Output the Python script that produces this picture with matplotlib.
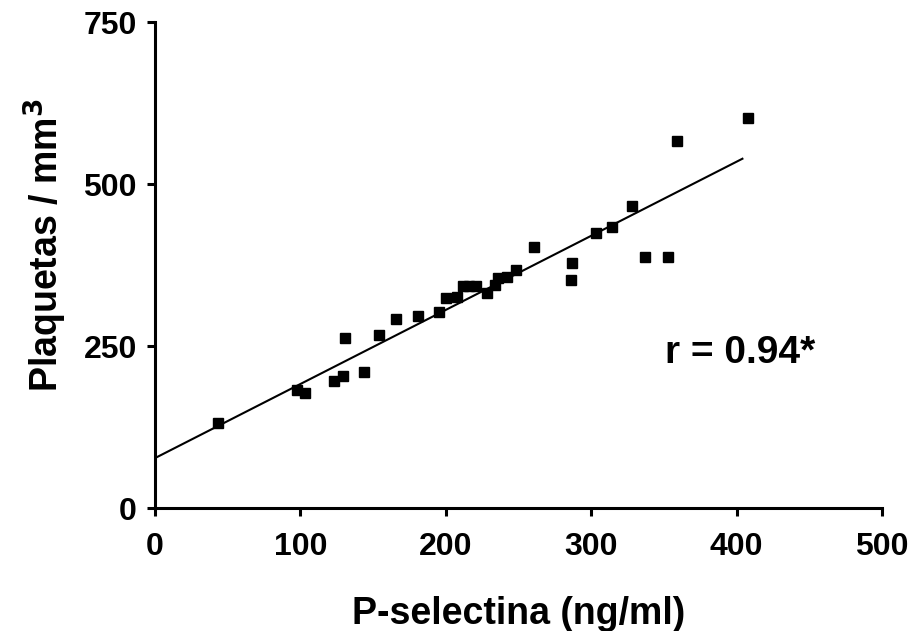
import matplotlib
matplotlib.use("Agg")
import matplotlib.pyplot as plt

# Data
p_selectina = [43, 98, 103, 123, 129, 131, 144, 154, 166, 181, 195, 200, 208,
               212, 216, 221, 228, 234, 236, 242, 248, 261, 286, 287, 303, 314,
               328, 337, 353, 359, 408]
plaquetas = [131, 182, 177, 196, 204, 262, 210, 267, 292, 296, 302, 324, 326,
             343, 343, 343, 332, 344, 355, 356, 367, 403, 352, 378, 424, 434,
             466, 387, 387, 566, 602]
fit_x = [0, 404]
fit_y = [77, 539]
x_ticks = [0, 100, 200, 300, 400, 500]
y_ticks = [0, 250, 500, 750]
annotation = "r = 0.94*"

plt.rcParams['font.family'] = ['Liberation Sans', 'DejaVu Sans']
plt.rcParams['font.weight'] = 'bold'

fig = plt.figure(figsize=(9.16, 6.31), dpi=100)
ax = fig.add_axes([155/916, 1-508/631, (882-155)/916, (508-22)/631])

ax.plot(fit_x, fit_y, color='black', lw=1.5, zorder=2)
ax.plot(p_selectina, plaquetas, linestyle='none', marker='s', markersize=7,
        color='black', zorder=3)

ax.set_xlim(0, 500)
ax.set_ylim(0, 750)
ax.set_xticks(x_ticks)
ax.set_yticks(y_ticks)
ax.spines['top'].set_visible(False)
ax.spines['right'].set_visible(False)
for s in ['left', 'bottom']:
    ax.spines[s].set_linewidth(2.2)
ax.tick_params(axis='both', width=2.2, length=6, labelsize=23)
ax.tick_params(axis='x', pad=11)
ax.tick_params(axis='y', pad=7)
for lab in ax.get_xticklabels() + ax.get_yticklabels():
    lab.set_fontweight('bold')

ax.set_xlabel("P-selectina (ng/ml)", fontsize=27, fontweight='bold', labelpad=25)
ax.set_ylabel("Plaquetas / mm$^\\mathbf{3}$", fontsize=27, fontweight='bold')
ax.yaxis.set_label_coords(-0.118, 0.54)
ax.text(351, 239, annotation, fontsize=28, fontweight='bold', va='center', ha='left')

fig.savefig("out.png", dpi=100)
